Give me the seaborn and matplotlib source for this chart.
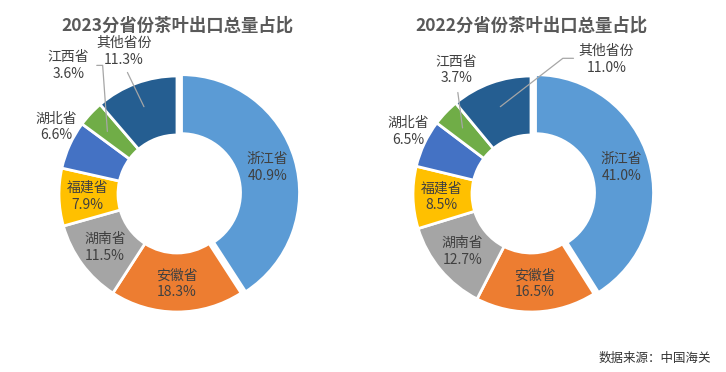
import matplotlib
matplotlib.use('Agg')
import numpy as np
import matplotlib.pyplot as plt
import seaborn as sns

# data (clockwise from 12 o'clock)
provinces = ['浙江省', '安徽省', '湖南省', '福建省', '湖北省', '江西省', '其他省份']
share_2023 = [40.9, 18.3, 11.5, 7.9, 6.6, 3.6, 11.3]
share_2022 = [41.0, 16.5, 12.7, 8.5, 6.5, 3.7, 11.0]
titles = ['2023分省份茶叶出口总量占比', '2022分省份茶叶出口总量占比']
source_text = '数据来源：中国海关'

colors = ['#5B9BD5', '#ED7D31', '#A5A5A5', '#FFC000', '#4472C4', '#70AD47', '#255E91']

sns.set_theme(style="white")
plt.rcParams['font.family'] = ['Noto Sans CJK SC', 'DejaVu Sans']

# label placement for the small slices that sit outside the ring
outside_2023 = {4: (-1.02, 0.57), 5: (-0.92, 1.09), 6: (-0.45, 1.21)}
outside_2022 = {4: (-1.04, 0.53), 5: (-0.63, 1.05), 6: (0.64, 1.14)}
leaders_2023 = {5: [(-0.59, 0.53), (-0.63, 1.09), (-0.68, 1.09)],
                6: [(-0.28, 0.74), (-0.42, 1.03)]}
leaders_2022 = {5: [(-0.58, 0.56), (-0.62, 0.86)],
                6: [(-0.26, 0.74), (0.27, 1.15), (0.36, 1.15)]}

fig = plt.figure(figsize=(7.26, 3.72), dpi=100)
fig.patch.set_facecolor('white')

W, H = 726, 372
side = 354
specs = [
    (0, share_2023, titles[0], outside_2023, leaders_2023),
    (354, share_2022, titles[1], outside_2022, leaders_2022),
]

for left_px, values, title, outside, leaders in specs:
    ax = fig.add_axes([left_px / W, 1 / H, side / W, side / H])
    explode = [0.04] + [0] * (len(values) - 1)
    wedges, _ = ax.pie(values, colors=colors, startangle=90, counterclock=False,
                       radius=1, explode=explode,
                       wedgeprops=dict(width=0.5, edgecolor='white', linewidth=2))
    for i, (w, name, v) in enumerate(zip(wedges, provinces, values)):
        label = f'{name}\n{v:.1f}%'
        if i in outside:
            x, y = outside[i]
        else:
            mid = np.deg2rad((w.theta1 + w.theta2) / 2)
            r = 0.76
            x, y = w.center[0] + r * np.cos(mid), w.center[1] + r * np.sin(mid)
        ax.text(x, y, label, ha='center', va='center', fontsize=10,
                color='#404040', linespacing=1.25)
    for pts in leaders.values():
        xs, ys = zip(*pts)
        ax.plot(xs, ys, color='#A6A6A6', lw=0.9)
    ax.text(0, 1.43, title, ha='center', va='center', fontsize=12.5,
            fontweight='bold', color='#595959')
    ax.set_xlim(-1.5, 1.5)
    ax.set_ylim(-1.5, 1.5)
    ax.set_aspect('equal')
    ax.axis('off')

fig.text(711 / W, 1 - 358 / H, source_text, ha='right', va='center',
         fontsize=9, color='#333333')

fig.savefig('out.png', dpi=100, facecolor='white')
